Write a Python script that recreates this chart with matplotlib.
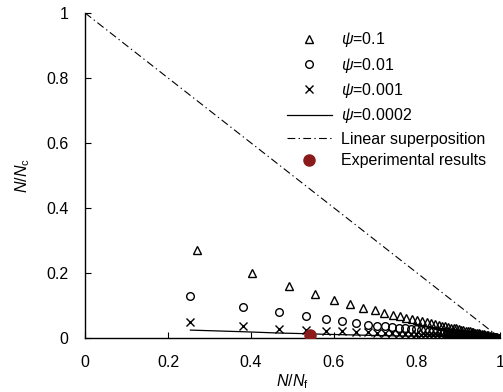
import matplotlib
matplotlib.use("Agg")
import matplotlib.pyplot as plt

plt.rcParams['font.family'] = ['Liberation Sans', 'DejaVu Sans']
plt.rcParams['mathtext.fontset'] = 'custom'
plt.rcParams['mathtext.rm'] = 'Liberation Sans'
plt.rcParams['mathtext.it'] = 'Liberation Sans:italic'
plt.rcParams['mathtext.bf'] = 'Liberation Sans:bold'

# psi = 0.1 (triangles)
x_tri = [0.271, 0.402, 0.491, 0.555, 0.601, 0.639, 0.671, 0.698, 0.721, 0.741,
         0.758, 0.774, 0.788, 0.801, 0.813, 0.824, 0.834, 0.843, 0.852, 0.860,
         0.868, 0.875, 0.882, 0.889, 0.895, 0.901, 0.907, 0.912, 0.917, 0.922,
         0.927, 0.932, 0.936, 0.941, 0.945, 0.949, 0.953, 0.957, 0.961, 0.965,
         0.969, 0.972, 0.976, 0.979, 0.983, 0.986, 0.990, 0.993, 0.997, 1.000]
y_tri = [0.269, 0.199, 0.160, 0.136, 0.116, 0.105, 0.093, 0.085, 0.077, 0.071,
         0.066, 0.062, 0.058, 0.054, 0.051, 0.048, 0.045, 0.043, 0.040, 0.038,
         0.036, 0.034, 0.032, 0.030, 0.029, 0.027, 0.025, 0.024, 0.022, 0.021,
         0.020, 0.018, 0.017, 0.016, 0.015, 0.014, 0.013, 0.012, 0.011, 0.009,
         0.008, 0.008, 0.006, 0.006, 0.005, 0.004, 0.003, 0.002, 0.001, 0.000]

# psi = 0.01 (circles) and psi = 0.001 (crosses) share x positions
x_cc = [0.254, 0.381, 0.467, 0.532, 0.580, 0.619, 0.652, 0.682, 0.703, 0.722,
        0.740, 0.756, 0.771, 0.785, 0.797, 0.809, 0.820, 0.830, 0.839, 0.848,
        0.857, 0.865, 0.872, 0.879, 0.886, 0.893, 0.899, 0.905, 0.910, 0.916,
        0.921, 0.926, 0.931, 0.936, 0.940, 0.945, 0.949, 0.953, 0.957, 0.961,
        0.965, 0.969, 0.972, 0.976, 0.979, 0.983, 0.986, 0.990, 0.993, 0.997, 1.000]
y_circ = [0.129, 0.095, 0.079, 0.067, 0.057, 0.051, 0.047, 0.041, 0.038, 0.036,
          0.034, 0.032, 0.030, 0.028, 0.026, 0.025, 0.023, 0.022, 0.021, 0.020,
          0.019, 0.018, 0.017, 0.016, 0.015, 0.014, 0.013, 0.012, 0.012, 0.011,
          0.010, 0.010, 0.009, 0.008, 0.008, 0.007, 0.007, 0.006, 0.006, 0.005,
          0.005, 0.004, 0.004, 0.003, 0.003, 0.002, 0.002, 0.001, 0.001, 0.0005, 0.000]
y_cross = [0.049, 0.036, 0.027, 0.024, 0.021, 0.020, 0.019, 0.017, 0.016, 0.015,
           0.014, 0.013, 0.012, 0.012, 0.011, 0.010, 0.010, 0.009, 0.009, 0.008,
           0.008, 0.007, 0.007, 0.007, 0.006, 0.006, 0.005, 0.005, 0.005, 0.004,
           0.004, 0.004, 0.004, 0.003, 0.003, 0.003, 0.003, 0.002, 0.002, 0.002,
           0.002, 0.002, 0.001, 0.001, 0.001, 0.001, 0.001, 0.0005, 0.0005, 0.0002, 0.000]

# psi = 0.0002 (solid line)
x_line = [0.254, 0.381, 0.467, 0.532, 0.580, 0.619, 0.652, 0.682, 0.720, 0.760,
          0.800, 0.850, 0.900, 0.950, 1.000]
y_line = [0.024, 0.019, 0.015, 0.013, 0.011, 0.010, 0.009, 0.008, 0.007, 0.006,
          0.005, 0.004, 0.003, 0.0015, 0.000]

# Linear superposition
x_lin = [0.0, 1.0]
y_lin = [1.0, 0.0]

# Experimental results
x_exp = [0.542]
y_exp = [0.008]

labels = [r'$\mathit{\psi}$=0.1', r'$\mathit{\psi}$=0.01', r'$\mathit{\psi}$=0.001',
          r'$\mathit{\psi}$=0.0002', 'Linear superposition', 'Experimental results']

fig = plt.figure(figsize=(5.03, 3.92), dpi=100)
ax = fig.add_axes([0.169, 0.138, 0.825, 0.829])

fs = 11.5
ax.plot(x_tri, y_tri, linestyle='none', marker='^', ms=6, mfc='none', mec='black', mew=1.0, label=labels[0])
ax.plot(x_cc, y_circ, linestyle='none', marker='o', ms=5.5, mfc='none', mec='black', mew=1.0, label=labels[1])
ax.plot(x_cc, y_cross, linestyle='none', marker='x', ms=5.5, mec='black', mew=1.0, label=labels[2])
ax.plot(x_line, y_line, color='black', lw=0.9, label=labels[3])
ax.plot(x_lin, y_lin, color='black', lw=0.8, dashes=(7, 3, 1.2, 3), label=labels[4])
ax.plot(x_exp, y_exp, linestyle='none', marker='o', ms=8, color='#8b1a1a', label=labels[5], zorder=5)

ax.set_xlim(0, 1)
ax.set_ylim(0, 1)
ax.set_xticks([0, 0.2, 0.4, 0.6, 0.8, 1])
ax.set_xticklabels(['0', '0.2', '0.4', '0.6', '0.8', '1'])
ax.set_yticks([0, 0.2, 0.4, 0.6, 0.8, 1])
ax.set_yticklabels(['0', '0.2', '0.4', '0.6', '0.8', '1'])
ax.tick_params(direction='in', length=4, width=0.8, labelsize=fs, pad=12)
for s in ['top', 'right']:
    ax.spines[s].set_visible(False)
for s in ['left', 'bottom']:
    ax.spines[s].set_linewidth(1.0)
ax.set_xlabel(r'$\mathit{N/N}_{\mathrm{f}}$', fontsize=fs, labelpad=2)
ax.set_ylabel(r'$\mathit{N/N}_{\mathrm{c}}$', fontsize=fs, labelpad=10)

leg = ax.legend(loc='upper left', bbox_to_anchor=(0.487, 0.947), frameon=False,
                fontsize=fs, handlelength=2.8, handletextpad=0.56, labelspacing=0.4,
                borderaxespad=0, borderpad=0)

fig.savefig('out.png', dpi=100)
